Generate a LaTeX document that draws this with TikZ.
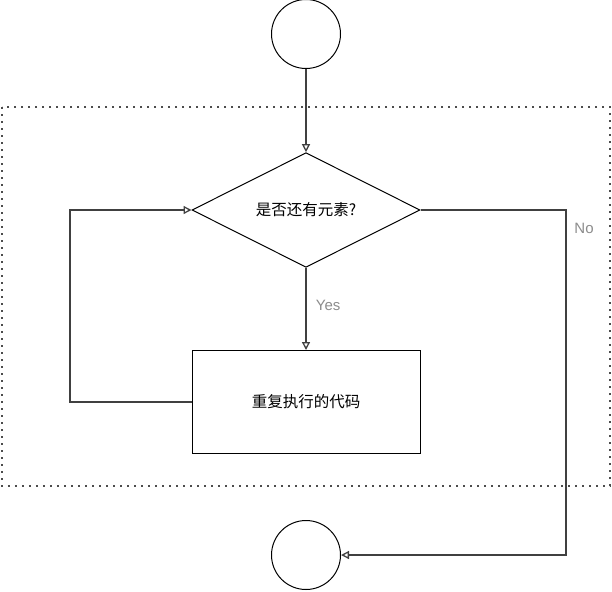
\documentclass[tikz,border=0pt]{standalone}
\usepackage{fontspec}
\setmainfont{Liberation Sans}
\newfontfamily\cjk{Noto Sans CJK SC}
\usetikzlibrary{calc}
\usetikzlibrary{arrows.meta}
\usetikzlibrary{shapes.geometric}

\tikzset{
  flowline/.style={draw=black!75,line width=1.3pt,-{Triangle[open,length=8pt,width=8pt]}},
  endpoint/.style={circle,draw,line width=1pt,minimum size=69pt,inner sep=0pt},
  choice/.style={diamond,draw,line width=1pt,minimum width=228pt,minimum height=111pt,inner sep=0pt,font=\cjk\fontsize{15.5}{18}\selectfont},
  action/.style={rectangle,draw,line width=1pt,minimum width=228pt,minimum height=103pt,inner sep=0pt,font=\cjk\fontsize{15.5}{18}\selectfont},
  answer/.style={text=black!45,font=\fontsize{15}{17}\selectfont}
}

\begin{document}
\begin{tikzpicture} [x=1pt,y=-1pt]

\useasboundingbox (0,0) rectangle (612,591);

\draw[black!70,line width=1.2pt,dash pattern=on 1.6pt off 5.4pt] (2,107) rectangle (610,486);

\node[endpoint] (start) at (306,34) {};
\node[choice] (check) at (306,210) {是否还有元素?};
\node[action] (body) at (306,402) {重复执行的代码};
\node[endpoint] (stop) at (306,555) {};

\coordinate (loop) at (70,402);
\coordinate (exit) at (566,555);

\draw[flowline] (start) -- (check);
\draw[flowline] (check.south) -- (body.north) node[answer,right,midway,xshift=6pt,yshift=4pt] {Yes};
\draw[flowline] (body.west) -- (loop) |- (check.west);
\draw[flowline] (check.east) -| (exit) -- (stop.east);
\node[answer] (no) at (584,228) {No};

\end{tikzpicture}
\end{document}
